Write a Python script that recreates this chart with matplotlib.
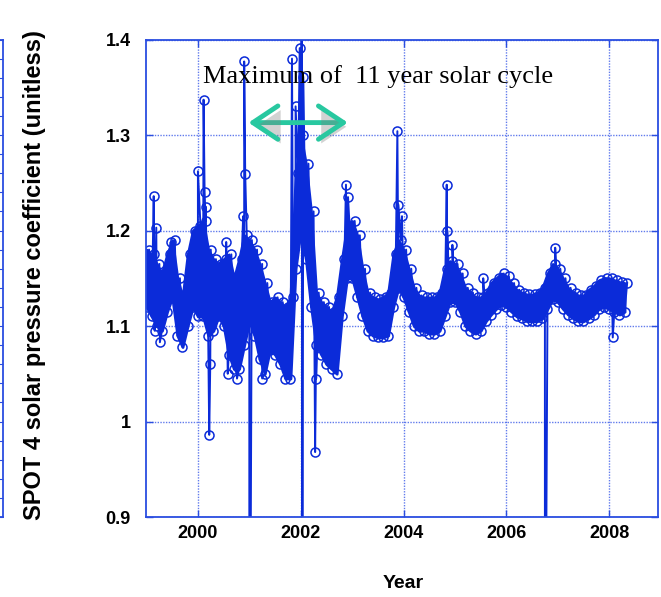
import numpy as np
import matplotlib
matplotlib.use("Agg")
import matplotlib.pyplot as plt
import matplotlib.patheffects as pe

# band, every 0.1 year from 1999.0 to 2008.3
years = np.round(np.arange(1999.0, 2008.35, 0.1), 2)
upper = [1.180, 1.175, 1.165, 1.155, 1.175, 1.190, 1.150, 1.130, 1.175, 1.200,
         1.205, 1.210, 1.180, 1.170, 1.165, 1.170, 1.175, 1.150, 1.170, 1.195,
         1.190, 1.180, 1.165, 1.145, 1.125, 1.130, 1.125, 1.120, 1.130, 1.260,
         1.300, 1.270, 1.220, 1.135, 1.125, 1.120, 1.115, 1.130, 1.170, 1.205,
         1.210, 1.195, 1.160, 1.135, 1.130, 1.128, 1.130, 1.135, 1.175, 1.190,
         1.180, 1.160, 1.140, 1.132, 1.130, 1.130, 1.130, 1.135, 1.160, 1.168,
         1.165, 1.155, 1.140, 1.135, 1.130, 1.130, 1.135, 1.145, 1.150, 1.155,
         1.152, 1.145, 1.138, 1.135, 1.133, 1.133, 1.135, 1.140, 1.155, 1.165,
         1.160, 1.150, 1.140, 1.135, 1.132, 1.132, 1.138, 1.142, 1.148, 1.150,
         1.150, 1.148, 1.146, 1.145]
lower = [1.120, 1.110, 1.100, 1.095, 1.115, 1.130, 1.090, 1.078, 1.100, 1.120,
         1.110, 1.110, 1.090, 1.095, 1.110, 1.100, 1.070, 1.055, 1.055, 1.080,
         1.105, 1.090, 1.065, 1.050, 1.075, 1.070, 1.060, 1.045, 1.045, 1.160,
         1.200, 1.170, 1.120, 1.080, 1.070, 1.060, 1.055, 1.050, 1.110, 1.150,
         1.150, 1.130, 1.110, 1.095, 1.090, 1.088, 1.088, 1.090, 1.120, 1.140,
         1.130, 1.115, 1.100, 1.095, 1.095, 1.092, 1.092, 1.095, 1.110, 1.125,
         1.125, 1.115, 1.100, 1.095, 1.092, 1.095, 1.105, 1.112, 1.118, 1.122,
         1.120, 1.115, 1.110, 1.108, 1.105, 1.105, 1.105, 1.108, 1.118, 1.128,
         1.125, 1.118, 1.112, 1.108, 1.105, 1.105, 1.108, 1.112, 1.118, 1.120,
         1.118, 1.115, 1.112, 1.115]

# single points off the band
spike_years = [1999.14, 1999.16, 1999.19, 1999.26, 1999.47, 2000.00, 2000.11,
               2000.13, 2000.15, 2000.22, 2000.24, 2000.55, 2000.58, 2000.76,
               2000.88, 2000.90, 2000.92, 2001.00, 2001.25, 2001.83, 2001.90,
               2001.98, 2002.02, 2002.03, 2002.05, 2002.28, 2002.30, 2002.88,
               2002.92, 2003.88, 2003.90, 2003.97, 2004.84, 2004.85, 2004.95,
               2005.55, 2006.75, 2006.95, 2008.07]
spike_values = [1.236, 1.095, 1.203, 1.083, 1.188, 1.262, 1.337,
                1.240, 1.225, 0.986, 1.060, 1.188, 1.050, 1.045,
                1.215, 1.377, 1.259, 0.500, 1.045, 1.380, 1.330,
                1.391, 1.500, 0.600, 1.361, 0.968, 1.045, 1.248,
                1.235, 1.304, 1.227, 1.215, 1.248, 1.200, 1.185,
                1.150, 0.600, 1.182, 1.088]

ytick_vals = [0.9, 1.0, 1.1, 1.2, 1.3, 1.4]
ytick_labels = ["0.9", "1", "1.1", "1.2", "1.3", "1.4"]
xtick_vals = [2000, 2002, 2004, 2006, 2008]

BLUE = "#0b2bd9"
EDGE = "#2a4de0"


def set_display(ax):
    """axis styling"""
    ax.set_xlim(1998.99, 2008.95)
    ax.set_ylim(0.9, 1.4)
    ax.set_xticks(xtick_vals)
    ax.set_yticks(ytick_vals)
    ax.set_yticklabels(ytick_labels)
    for s in ax.spines.values():
        s.set_color(EDGE)
        s.set_linewidth(1.3)
    ax.tick_params(direction="in", length=5, color=EDGE, width=1,
                   top=True, right=True, labelsize=13)
    ax.tick_params(axis="x", pad=6)
    ax.tick_params(axis="y", pad=11)
    for lab in ax.get_xticklabels() + ax.get_yticklabels():
        lab.set_fontweight("bold")
        lab.set_family("Liberation Sans")
    ax.grid(True, linestyle=(0, (1, 1)), color="#3a5ae8", linewidth=1.0, alpha=0.8)
    ax.set_axisbelow(True)


def main():
    # zigzag between the lower and upper edge of the band
    t = np.concatenate([years, years + 0.05, spike_years])
    v = np.concatenate([lower, upper, spike_values])
    order = np.argsort(t, kind="stable")
    t, v = t[order], v[order]

    fig = plt.figure(figsize=(6.61, 5.97), dpi=100)

    # part of a neighbouring panel cut off at the left edge
    ax0 = fig.add_axes([-0.3, 0.134, 0.3 + 3 / 661, 0.7998])
    ax0.set_ylim(0, 25)
    ax0.set_yticks(range(26))
    ax0.set_xticks([])
    ax0.yaxis.tick_right()
    ax0.tick_params(direction="in", length=3, color=EDGE, labelright=False)
    for s in ax0.spines.values():
        s.set_color(EDGE)
        s.set_linewidth(1.3)

    ax = fig.add_axes([146 / 661, 0.134, 512 / 661, 0.7998])
    # dense daily points merge into a solid band
    ax.fill_between(years, lower, upper, color=BLUE, edgecolor=BLUE, linewidth=2)
    ax.plot(t, v, color=BLUE, linewidth=1.4, marker="o", markersize=6.5,
            markerfacecolor="none", markeredgecolor=BLUE, markeredgewidth=1.1)
    set_display(ax)

    ax.text(2000.1, 1.361, "Maximum of  11 year solar cycle", family="Liberation Serif",
            fontsize=19, va="center", ha="left", color="black")
    ax.annotate("", xy=(2000.93, 1.313), xytext=(2002.97, 1.313),
                arrowprops=dict(arrowstyle="<->,head_length=0.9,head_width=0.6",
                                color="#28c8a0", lw=3.5, mutation_scale=20,
                                path_effects=[pe.withSimplePatchShadow(offset=(2, -3),
                                                                       shadow_rgbFace="gray",
                                                                       alpha=0.35)]))

    fig.text(35 / 661, 1 - 275 / 597, "SPOT 4 solar pressure coefficient (unitless)",
             rotation=90, ha="center", va="center", fontsize=17, fontweight="bold",
             family="Liberation Sans")
    fig.text(403 / 661, 1 - 584 / 597, "Year", ha="center", va="center",
             fontsize=14, fontweight="bold", family="Liberation Sans")

    fig.savefig("out.png", dpi=100)


if __name__ == "__main__":
    main()
